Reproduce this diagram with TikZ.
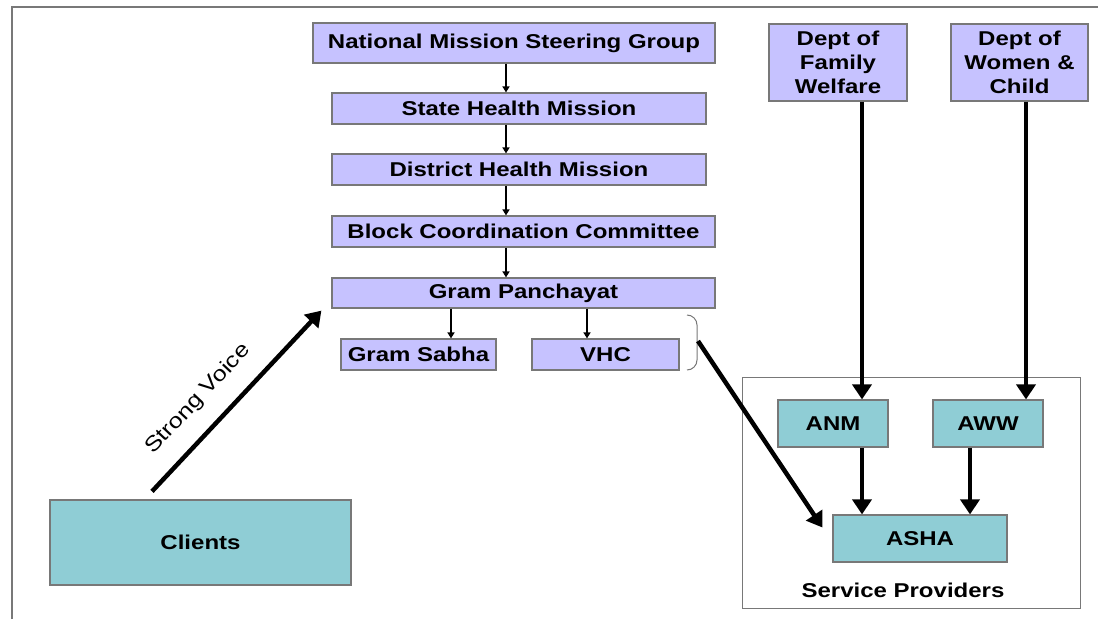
\documentclass[tikz,border=0pt]{standalone}
\usepackage{fontspec}
\setmainfont{Liberation Sans}[FakeStretch=1.2]
\usetikzlibrary{arrows.meta, calc, positioning}

\definecolor{lavender}{RGB}{198,194,255}
\definecolor{tealbox}{RGB}{143,205,213}
\definecolor{edgegray}{RGB}{120,120,120}

\begin{document}
\begin{tikzpicture}[x=1pt, y=-1pt,
  box/.style={draw=edgegray, line width=1.2pt, inner sep=0pt, align=center,
    font=\bfseries\fontsize{20}{24}\selectfont},
  govbox/.style={box, fill=lavender},
  carebox/.style={box, fill=tealbox},
  thinarrow/.style={line width=2.2pt, -{Triangle[length=6pt,width=7pt]}},
  thickarrow/.style={line width=4.5pt, -{Triangle[length=15pt,width=19pt]}}
]

% Fix the canvas to the page size
\useasboundingbox (0,0) rectangle (1098,619);

% Outer frame (only top and left edges show)
\draw[edgegray, line width=1.5pt] (12,619) -- (12,7) -- (1098,7);

% Define the x positions of the connector lines
\coordinate (spine) at (506,0);
\coordinate (sabhaline) at (451,0);
\coordinate (vhcline) at (587,0);
\coordinate (fwline) at (862,0);
\coordinate (wcline) at (1026,0);
\coordinate (awwline) at (970,0);

% Mission hierarchy
\node[govbox, minimum width=402pt, minimum height=40pt] (nmsg) at (514,43) {National Mission Steering Group};
\node[govbox, minimum width=374pt, minimum height=31pt] (shm) at (519,108.5) {State Health Mission};
\node[govbox, minimum width=374pt, minimum height=31pt] (dhm) at (519,169.5) {District Health Mission};
\node[govbox, minimum width=383pt, minimum height=31pt] (bcc) at (523.5,231.5) {Block Coordination Committee};
\node[govbox, minimum width=383pt, minimum height=30pt] (gp) at (523.5,293) {Gram Panchayat};
\node[govbox, minimum width=155pt, minimum height=31pt] (sabha) at (418.5,354.5) {Gram Sabha};
\node[govbox, minimum width=147pt, minimum height=31pt] (vhc) at (605.5,354.5) {VHC};

% Departments
\node[govbox, minimum width=138pt, minimum height=77pt] (dfw) at (838,62.5) {Dept of\\Family\\Welfare};
\node[govbox, minimum width=137pt, minimum height=77pt] (dwc) at (1019.5,62.5) {Dept of\\Women \&\\Child};

% Service providers group
\draw[edgegray, line width=0.8pt] (742,377) rectangle (1080,608);
\node[carebox, minimum width=110pt, minimum height=47pt] (anm) at (833,423.5) {ANM};
\node[carebox, minimum width=110pt, minimum height=47pt] (aww) at (988,423.5) {AWW};
\node[carebox, minimum width=174pt, minimum height=47pt] (asha) at (920,538.5) {ASHA};
\node[font=\bfseries\fontsize{20}{24}\selectfont] (splabel) at (903,590) {Service Providers};

% Clients
\node[carebox, minimum width=301pt, minimum height=85pt] (clients) at (200.5,542.5) {Clients};

% Hierarchy arrows
\draw[thinarrow] (nmsg.south -| spine) -- (shm.north -| spine);
\draw[thinarrow] (shm.south -| spine) -- (dhm.north -| spine);
\draw[thinarrow] (dhm.south -| spine) -- (bcc.north -| spine);
\draw[thinarrow] (bcc.south -| spine) -- (gp.north -| spine);
\draw[thinarrow] (gp.south -| sabhaline) -- (sabha.north -| sabhaline);
\draw[thinarrow] (gp.south -| vhcline) -- (vhc.north -| vhcline);

% Bracket next to VHC
\draw[edgegray, line width=1pt] (687,315) to[out=0,in=90] (697,325) -- (697,360) to[out=-90,in=0] (687,370);
\coordinate (bracetip) at (698,341);

% Department and provider arrows
\draw[thickarrow] (dfw.south -| fwline) -- (anm.north -| fwline);
\draw[thickarrow] (dwc.south -| wcline) -- (aww.north -| wcline);
\draw[thickarrow] (anm.south -| fwline) -- (asha.north -| fwline);
\draw[thickarrow] (aww.south -| awwline) -- (asha.north -| awwline);
\draw[thickarrow] (bracetip) -- ([shift={(-10,-11)}]asha.west);

% Clients voice to the panchayat
\draw[thickarrow] ([shift={(-48.5,-8)}]clients.north) -- ([shift={(-10,2)}]gp.south west)
  node[pos=0.4, sloped, above=14pt, font=\fontsize{21}{24}\selectfont] {Strong Voice};

\end{tikzpicture}
\end{document}
